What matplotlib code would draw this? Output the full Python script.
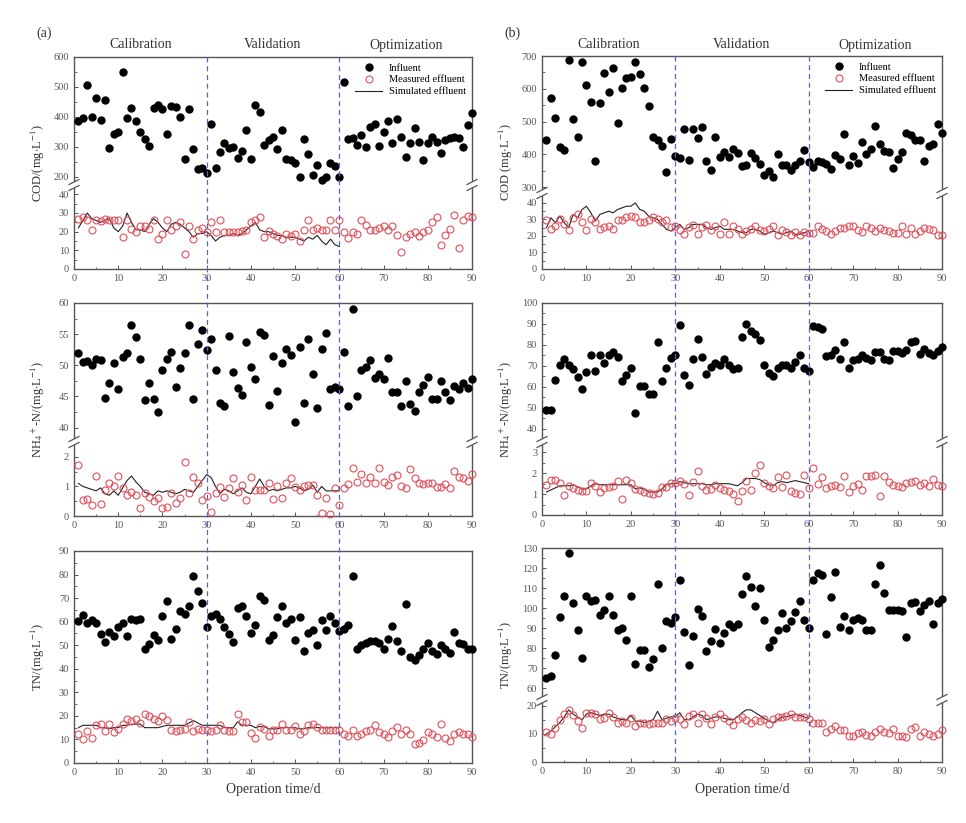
import numpy as np
import matplotlib
matplotlib.use("Agg")
import matplotlib.pyplot as plt
from matplotlib.lines import Line2D
from matplotlib.patches import Rectangle
from matplotlib.ticker import MultipleLocator
import matplotlib.transforms as mtransforms

plt.rcParams['font.family'] = ['Liberation Serif', 'DejaVu Serif']
plt.rcParams['mathtext.fontset'] = 'stix'

# operation days
days = np.arange(1, 91)
sim_days = days[:60]

# ---- (a) COD ----
cod_a_inf = [388, 396, 505, 401, 463, 390, 457, 297, 343, 349, 549, 396, 431, 388, 351, 325, 303, 431, 439, 428,
             342, 437, 432, 401, 261, 428, 292, 225, 230, 213, 377, 231, 282, 312, 295, 301, 264, 286, 356, 261,
             439, 416, 305, 323, 334, 293, 356, 260, 258, 245, 199, 325, 276, 208, 239, 191, 200, 245, 237, 200,
             518, 325, 331, 306, 340, 301, 368, 375, 303, 351, 388, 312, 393, 334, 267, 312, 362, 317, 256, 314,
             334, 317, 281, 323, 329, 334, 331, 301, 373, 412]
cod_a_meas = [27, 28, 26.5, 21, 26.5, 25.7, 27, 26.5, 26.5, 26, 17, 26.5, 21.5, 20, 23, 23, 21.5, 26.5, 16, 18.5,
              26, 21, 23, 25, 8, 23, 16, 21, 22, 20, 25, 20, 26, 20, 20, 20, 20, 20.5, 21, 25,
              26.5, 28, 17, 20.5, 19, 17.5, 16, 18.5, 17.5, 19, 15, 21, 26, 21, 22, 21, 21, 26, 21, 26,
              20, 16.5, 20, 19, 26, 23.5, 21, 21, 22, 23, 21, 23, 18, 9, 17, 19, 20, 17.5, 20, 21,
              25, 28, 13, 18, 21.5, 29, 11, 26, 28.5, 28]
cod_a_sim = [22, 26, 30, 27, 26, 25, 26, 27, 22, 20, 23, 30, 25, 21, 21, 20, 24, 27, 25, 22,
             20, 24, 25, 24, 22, 20, 17, 19, 19, 20, 18, 15, 17, 18, 18, 19, 18, 19, 21, 23,
             25, 21, 20, 20, 19, 18, 18, 17, 17, 17, 16, 15, 17, 16, 18, 15, 13, 16, 13, 12]

# ---- (a) NH4+-N ----
nh_a_inf = [51.9, 50.6, 50.7, 50.0, 51.0, 50.8, 44.7, 47.2, 50.4, 46.2, 51.4, 52.0, 56.5, 54.5, 51.0, 44.5, 47.1, 44.6, 42.5, 49.3,
            51.0, 52.2, 46.6, 49.5, 52.0, 56.4, 44.6, 53.4, 55.7, 52.5, 54.2, 49.3, 44.0, 43.5, 54.7, 49.0, 46.4, 45.2, 53.8, 49.8,
            47.8, 55.3, 54.9, 43.7, 51.5, 45.9, 50.4, 52.7, 51.7, 40.9, 52.9, 43.9, 54.2, 48.6, 43.1, 52.7, 55.2, 46.2, 46.6, 46.2,
            52.2, 43.4, 59.1, 45.0, 49.3, 49.7, 50.9, 48.0, 48.6, 47.8, 51.2, 45.8, 45.8, 43.5, 47.5, 43.8, 42.7, 45.8, 46.9, 48.2,
            44.6, 44.6, 47.5, 45.8, 44.5, 46.7, 46.2, 47.1, 46.3, 47.8]
nh_a_meas = [1.72, 0.53, 0.59, 0.38, 1.36, 0.42, 0.87, 1.10, 1.00, 1.34, 0.93, 0.72, 0.81, 0.72, 0.28, 0.78, 0.64, 0.51, 0.61, 0.28,
             0.31, 0.78, 0.44, 0.61, 1.81, 0.78, 1.32, 1.10, 0.53, 0.67, 0.14, 0.78, 0.98, 0.64, 0.93, 1.30, 0.81, 1.04, 0.55, 1.32,
             0.87, 0.89, 0.87, 1.10, 0.59, 1.00, 0.61, 1.12, 1.27, 0.98, 0.87, 1.00, 1.04, 1.04, 0.70, 0.10, 0.61, 0.08, 0.96, 0.36,
             0.93, 1.07, 1.63, 1.15, 1.41, 1.10, 1.32, 1.10, 1.63, 1.15, 1.04, 1.32, 1.38, 1.00, 0.93, 1.58, 1.30, 1.10, 1.07, 1.13,
             1.10, 0.98, 0.98, 1.07, 0.95, 1.51, 1.32, 1.30, 1.18, 1.41]
nh_a_sim = [1.10, 1.00, 0.95, 0.90, 0.85, 0.95, 0.75, 0.70, 0.85, 0.70, 0.95, 1.20, 1.35, 1.15, 1.00, 0.80, 0.75, 0.70, 0.85, 0.80,
            0.85, 0.80, 0.75, 0.80, 0.90, 0.85, 0.80, 1.00, 1.20, 1.40, 1.30, 1.00, 0.75, 0.90, 0.85, 0.75, 0.85, 0.95, 0.80, 0.75,
            1.00, 1.25, 1.00, 0.85, 0.90, 0.85, 0.90, 0.95, 0.95, 1.00, 0.95, 0.85, 0.90, 1.05, 0.80, 1.00, 0.85, 0.85, 0.85, 0.85]

# ---- (a) TN ----
tn_a_inf = [60.3, 63.0, 59.4, 60.8, 59.4, 54.9, 51.4, 55.6, 53.8, 57.7, 59.4, 53.8, 61.3, 60.6, 61.3, 48.3, 50.7, 54.5, 52.1, 62.4,
            68.8, 52.8, 56.7, 64.4, 63.1, 66.5, 79.2, 72.9, 68.1, 57.7, 62.3, 63.4, 61.0, 57.7, 54.9, 51.4, 65.9, 66.5, 62.3, 55.2,
            58.4, 70.9, 69.3, 52.1, 54.5, 62.0, 66.6, 59.4, 61.0, 52.4, 62.0, 47.4, 55.2, 56.6, 50.2, 60.6, 56.3, 62.3, 59.4, 56.0,
            57.0, 58.7, 79.2, 48.5, 49.9, 50.9, 51.7, 51.7, 50.9, 48.5, 52.8, 58.0, 51.7, 47.5, 67.4, 45.0, 43.6, 46.0, 48.5, 50.9,
            47.5, 46.1, 50.0, 48.3, 46.8, 55.6, 50.9, 50.4, 48.3, 48.5]
tn_a_meas = [12.5, 10.3, 13.6, 10.8, 16.0, 16.4, 13.6, 16.4, 13.2, 14.6, 16.7, 18.5, 17.8, 18.8, 17.0, 21.0, 20.1, 18.8, 17.8, 19.8,
             18.1, 13.9, 13.4, 14.2, 14.6, 17.4, 13.6, 14.3, 14.2, 13.9, 13.6, 13.9, 16.3, 13.9, 13.4, 13.4, 21.0, 17.4, 17.4, 12.9,
             10.8, 15.3, 14.3, 11.3, 13.9, 14.2, 16.4, 13.9, 13.9, 15.6, 12.2, 13.4, 16.0, 16.4, 15.3, 14.2, 13.9, 13.9, 14.2, 14.2,
             12.5, 11.3, 14.2, 11.3, 12.5, 13.4, 14.2, 16.3, 13.2, 12.2, 11.0, 13.4, 15.3, 12.2, 13.9, 12.5, 8.2, 8.6, 9.6, 13.2,
             12.2, 11.0, 16.7, 10.8, 9.4, 12.2, 13.2, 12.5, 12.2, 11.0]
tn_a_sim = [15.0, 16.0, 16.0, 16.0, 16.0, 15.0, 15.0, 14.5, 15.0, 15.0, 16.0, 16.0, 16.5, 16.5, 16.5, 15.0, 15.0, 15.0, 15.0, 15.5,
            16.0, 16.0, 16.0, 16.0, 16.0, 17.0, 18.0, 17.0, 16.0, 16.0, 16.0, 16.0, 16.0, 15.0, 15.0, 15.0, 17.5, 16.0, 16.0, 16.0,
            15.0, 15.5, 15.5, 14.5, 14.5, 14.5, 15.0, 15.0, 15.0, 15.0, 14.5, 14.5, 15.0, 15.0, 15.0, 15.0, 15.0, 15.0, 15.0, 15.0]

# ---- (b) COD ----
cod_b_inf = [444, 572, 511, 422, 412, 687, 509, 452, 681, 610, 560, 381, 557, 648, 590, 664, 495, 602, 633, 636,
             681, 646, 603, 546, 453, 445, 424, 345, 448, 395, 388, 476, 383, 476, 451, 482, 381, 351, 453, 392,
             407, 392, 415, 404, 364, 366, 404, 388, 371, 336, 349, 330, 402, 366, 368, 351, 368, 381, 412, 376,
             361, 379, 378, 371, 356, 397, 386, 461, 368, 395, 373, 437, 400, 415, 485, 432, 409, 407, 358, 386,
             407, 465, 460, 444, 444, 381, 424, 432, 493, 466]
cod_b_meas = [29.9, 24.2, 25.9, 30.3, 27.3, 23.8, 30.9, 33.3, 28.3, 23.8, 30.3, 28.3, 24.2, 25.3, 25.9, 24.4, 29.9, 29.9, 31.5, 32.3,
              31.5, 28.3, 28.3, 29.5, 31.5, 30.3, 28.3, 29.9, 25.5, 25.9, 23.8, 21.2, 25.5, 26.5, 21.2, 25.3, 26.5, 23.8, 25.9, 21.2,
              28.3, 21.2, 25.9, 24.2, 21.2, 22.8, 24.2, 25.9, 23.8, 22.8, 24.2, 25.9, 20.8, 23.8, 22.2, 20.8, 22.2, 20.8, 22.2, 21.8,
              21.8, 26.3, 24.2, 22.8, 21.2, 23.2, 24.8, 24.8, 25.9, 25.9, 23.8, 22.2, 25.9, 24.8, 23.2, 24.8, 23.8, 22.8, 21.8, 21.8,
              26.3, 21.2, 24.8, 21.2, 23.2, 24.8, 24.2, 23.8, 20.8, 20.8]
cod_b_sim = [25, 31, 28, 32, 28, 25, 33, 31, 36, 38, 34, 29, 33, 34, 35, 34, 36, 37, 38, 38,
             40, 36, 35, 32, 31, 30, 27, 24, 23, 25, 27, 24, 25, 27, 27, 27, 25, 24, 25, 26,
             24, 24, 24, 23, 22, 22, 24, 24, 23, 21, 22, 23, 22, 21, 22, 23, 21, 21, 22, 23]

# ---- (b) NH4+-N ----
nh_b_inf = [48.9, 48.9, 63.2, 70.2, 73.4, 70.5, 68.6, 64.5, 59.2, 67.3, 75.4, 67.8, 75.1, 71.3, 75.4, 76.7, 74.1, 62.9, 65.7, 68.9,
            47.5, 60.5, 60.5, 56.7, 56.7, 81.6, 62.7, 68.9, 73.8, 75.4, 89.7, 65.7, 60.8, 73.4, 82.7, 74.1, 66.0, 69.4, 71.3, 70.5,
            73.3, 70.5, 68.6, 69.2, 84.0, 90.0, 86.8, 85.1, 82.2, 70.5, 66.8, 65.3, 68.9, 70.5, 70.5, 69.2, 71.7, 75.1, 68.9, 67.6,
            89.2, 88.7, 87.6, 74.6, 75.4, 77.8, 73.4, 81.6, 69.2, 73.0, 73.4, 75.1, 73.8, 73.0, 76.7, 76.7, 73.4, 72.6, 77.0, 77.0,
            76.2, 77.8, 81.6, 81.9, 75.9, 78.2, 76.2, 75.1, 77.3, 79.0]
nh_b_meas = [1.43, 1.70, 1.70, 1.54, 0.94, 1.38, 1.30, 1.22, 1.13, 1.13, 1.54, 1.38, 1.10, 1.30, 1.35, 1.38, 1.62, 0.78, 1.67, 1.54,
             1.25, 1.22, 1.10, 1.05, 1.02, 1.05, 1.35, 1.35, 1.54, 1.54, 1.62, 1.51, 0.97, 1.57, 2.11, 1.38, 1.22, 1.25, 1.43, 1.30,
             1.18, 1.13, 1.02, 0.68, 1.17, 1.62, 1.22, 2.03, 2.38, 1.54, 1.38, 1.30, 1.83, 1.35, 1.94, 1.13, 1.05, 1.00, 1.91, 1.30,
             2.24, 1.49, 1.83, 1.30, 1.38, 1.46, 1.33, 1.86, 1.10, 1.41, 1.51, 1.22, 1.86, 1.86, 1.91, 0.92, 1.86, 1.59, 1.43, 1.38,
             1.35, 1.54, 1.57, 1.62, 1.46, 1.54, 1.38, 1.75, 1.43, 1.41]
nh_b_sim = [1.10, 1.20, 1.30, 1.40, 1.40, 1.40, 1.45, 1.35, 1.25, 1.25, 1.40, 1.50, 1.45, 1.45, 1.45, 1.45, 1.45, 1.45, 1.45, 1.45,
            1.25, 1.30, 1.25, 1.10, 1.10, 1.10, 1.25, 1.45, 1.50, 1.50, 1.60, 1.55, 1.50, 1.50, 1.50, 1.50, 1.45, 1.45, 1.50, 1.50,
            1.50, 1.50, 1.45, 1.40, 1.55, 1.75, 1.75, 1.75, 1.70, 1.55, 1.45, 1.40, 1.55, 1.60, 1.55, 1.60, 1.65, 1.60, 1.55, 1.50]

# ---- (b) TN ----
tn_b_inf = [65.0, 65.8, 76.3, 95.3, 106.2, 127.5, 102.5, 88.8, 75.0, 105.8, 103.7, 104.2, 96.3, 99.2, 106.2, 96.3, 89.2, 90.0, 83.8, 106.2,
            72.0, 78.8, 78.8, 70.5, 74.7, 112.0, 80.0, 93.3, 92.5, 95.3, 114.2, 87.8, 71.7, 85.8, 99.7, 95.8, 78.3, 83.7, 89.5, 82.5,
            87.5, 92.2, 90.5, 92.0, 107.2, 115.8, 110.5, 101.2, 110.0, 93.8, 80.5, 84.2, 89.2, 97.5, 90.0, 93.7, 98.0, 103.7, 94.2, 90.0,
            114.2, 117.5, 116.7, 87.0, 105.3, 117.8, 90.5, 96.2, 88.8, 94.2, 95.0, 93.8, 88.8, 88.8, 112.2, 121.7, 107.5, 99.2, 99.2, 99.2,
            98.3, 85.5, 102.5, 103.0, 98.7, 101.7, 103.7, 92.2, 102.5, 104.5]
tn_b_meas = [10.8, 10.0, 12.0, 14.9, 16.9, 18.5, 16.7, 14.4, 12.0, 17.3, 17.3, 17.1, 15.2, 15.5, 17.5, 15.9, 14.0, 14.7, 14.0, 15.5,
             12.6, 14.0, 14.0, 13.4, 13.8, 14.0, 14.0, 15.2, 14.7, 15.5, 15.2, 13.4, 16.4, 16.9, 14.0, 16.9, 15.5, 13.5, 15.8, 16.9,
             15.5, 14.4, 13.2, 15.3, 16.1, 14.9, 14.0, 14.9, 14.4, 15.2, 13.4, 15.2, 15.9, 15.9, 16.4, 16.9, 16.1, 15.9, 15.8, 15.2,
             14.0, 14.0, 14.0, 10.8, 11.8, 12.9, 11.4, 11.4, 9.1, 9.3, 10.2, 10.5, 9.6, 9.3, 10.8, 11.6, 10.8, 10.2, 11.6, 9.3,
             9.3, 8.8, 11.6, 12.4, 9.3, 10.8, 10.0, 9.4, 10.0, 11.4]
tn_b_sim = [10.0, 11.0, 12.5, 14.0, 16.0, 18.5, 17.0, 16.0, 15.0, 17.0, 17.5, 17.0, 16.5, 17.0, 17.0, 16.0, 15.5, 15.0, 15.0, 16.5,
            14.5, 14.5, 14.0, 14.5, 15.0, 18.0, 15.0, 15.5, 16.0, 16.0, 17.5, 15.0, 15.0, 16.0, 17.0, 16.5, 15.0, 15.5, 16.0, 16.0,
            15.5, 15.0, 15.0, 16.0, 17.5, 18.5, 18.5, 17.5, 16.5, 15.5, 14.5, 14.0, 15.0, 16.0, 16.0, 16.5, 17.0, 16.5, 16.0, 15.5]

W, H = 966, 823
fig = plt.figure(figsize=(W / 100, H / 100), dpi=100)

SPINE = '#555555'
TICKC = '#555555'
RED = '#e0505a'
BLUE = '#5565d0'


def fx(px):
    return px / W


def fy(py):
    return 1 - py / H


def add_ax(x0, x1, y0, y1):
    ax = fig.add_axes([fx(x0), fy(y1), fx(x1) - fx(x0), fy(y0) - fy(y1)])
    ax.set_xlim(0, 90)
    for s in ax.spines.values():
        s.set_color(SPINE)
        s.set_linewidth(1.0)
    ax.tick_params(direction='in', labelsize=7.5, labelcolor='#555555', color=TICKC, length=3, width=0.7)
    ax.tick_params(which='minor', direction='in', length=1.8, width=0.6, color=TICKC)
    ax.yaxis.set_ticks_position('left')
    ax.xaxis.set_ticks_position('bottom')
    ax.xaxis.set_major_locator(MultipleLocator(10))
    ax.xaxis.set_minor_locator(MultipleLocator(5))
    return ax


def plot_inf(ax, vals):
    ax.plot(days, vals, 'o', ms=5.0, color='black', mec='black', clip_on=False, zorder=3, label='Influent')


def plot_eff(ax, meas, sim):
    ax.plot(days, meas, 'o', ms=5.0, mfc='none', mec=RED, mew=0.8, clip_on=False, zorder=3, label='Measured effluent')
    ax.plot(sim_days, sim, '-', color='#222222', lw=0.8, zorder=2, label='Simulated effluent')


def break_marks(x0, x1, yb):
    for xp in (x0, x1):
        fig.add_artist(Rectangle((fx(xp - 4), fy(yb + 3)), fx(8), 6 / H, transform=fig.transFigure,
                                 facecolor='white', edgecolor='none', zorder=10))
        for dy in (-3, 3):
            fig.add_artist(Line2D([fx(xp - 5), fx(xp + 5)], [fy(yb + dy + 2.5), fy(yb + dy - 2.5)],
                                  transform=fig.transFigure, color=SPINE, lw=0.9, zorder=11))


def panel(x0, x1, ytop, ybrk, ybot, inf, meas, sim, up, lo, ylabel, legend=False):
    if ybrk is None:
        ax = add_ax(x0, x1, ytop, ybot)
        ax.set_ylim(*up[0])
        ax.yaxis.set_major_locator(MultipleLocator(up[1]))
        ax.yaxis.set_minor_locator(MultipleLocator(up[2]))
        plot_inf(ax, inf)
        plot_eff(ax, meas, sim)
        axes = [ax]
    else:
        au = add_ax(x0, x1, ytop, ybrk)
        al = add_ax(x0, x1, ybrk, ybot)
        au.set_ylim(*up[0])
        au.yaxis.set_major_locator(MultipleLocator(up[1]))
        au.yaxis.set_minor_locator(MultipleLocator(up[2]))
        al.set_ylim(*lo[0])
        al.yaxis.set_major_locator(MultipleLocator(lo[1]))
        al.yaxis.set_minor_locator(MultipleLocator(lo[2]))
        au.spines['bottom'].set_visible(False)
        al.spines['top'].set_visible(False)
        au.tick_params(which='both', bottom=False, labelbottom=False)
        plot_inf(au, inf)
        plot_eff(al, meas, sim)
        break_marks(x0, x1, ybrk)
        axes = [au, al]
        if legend:
            h1, l1 = au.get_legend_handles_labels()
            h2, l2 = al.get_legend_handles_labels()
            au.legend(h1 + h2, l1 + l2, loc='upper right', frameon=False, fontsize=7.5,
                      handlelength=2.6, handletextpad=0.6, labelspacing=0.25,
                      borderaxespad=0.3, borderpad=0.3)
    fig.text(fx(x0 - 36), fy((ytop + ybot) / 2), ylabel, rotation=90, ha='center', va='center',
             fontsize=9, color='#333333')
    return axes


def column(x0, x1, rows, tag):
    top = rows[0][0]
    bottom = rows[-1][2]
    for r in rows:
        panel(x0, x1, *r)
    tr = mtransforms.blended_transform_factory(
        fig.add_axes([fx(x0), 0, fx(x1) - fx(x0), 1], frameon=False, xlim=(0, 90), xticks=[], yticks=[]).transData,
        fig.transFigure)
    for d in (30, 60):
        fig.add_artist(Line2D([d, d], [fy(top), fy(bottom)], transform=tr, color=BLUE,
                              lw=0.9, ls=(0, (4, 3)), zorder=5))
    for d, name in ((15, 'Calibration'), (45, 'Validation'), (75, 'Optimization')):
        fig.text(fx(x0 + (x1 - x0) * d / 90), fy(45), name, ha='center', va='center', fontsize=10, color='#333333')
    fig.text(fx(x0 - 38), fy(33), tag, ha='left', va='center', fontsize=10, color='#333333')
    fig.text(fx((x0 + x1) / 2), fy(789), 'Operation time/d', ha='center', va='center', fontsize=10, color='#333333')


unit = r'(mg$\cdot$L$^{-1}$)'

column(74, 472, [
    (57, 185, 269, cod_a_inf, cod_a_meas, cod_a_sim, ((173, 600), 100, 50), ((0, 45), 10, 5), 'COD/' + unit, True),
    (303, 442, 516, nh_a_inf, nh_a_meas, nh_a_sim, ((37.7, 60), 5, 2.5), ((0, 2.5), 1, 0.5), r'NH$_4$$^+$-N/' + unit),
    (551, None, 763, tn_a_inf, tn_a_meas, tn_a_sim, ((0, 90), 10, 5), None, 'TN/' + unit),
], '(a)')

column(542, 942, [
    (56, 193, 269, cod_b_inf, cod_b_meas, cod_b_sim, ((282, 700), 100, 50), ((0, 46), 10, 5), 'COD ' + unit, True),
    (303, 442, 515, nh_b_inf, nh_b_meas, nh_b_sim, ((33.7, 100), 10, 5), ((0, 3.5), 1, 0.5), r'NH$_4$$^+$-N/' + unit),
    (548, 700, 762, tn_b_inf, tn_b_meas, tn_b_sim, ((54, 130), 10, 5), ((0, 22), 10, 5), 'TN/' + unit),
], '(b)')

fig.savefig('out.png', dpi=100)
